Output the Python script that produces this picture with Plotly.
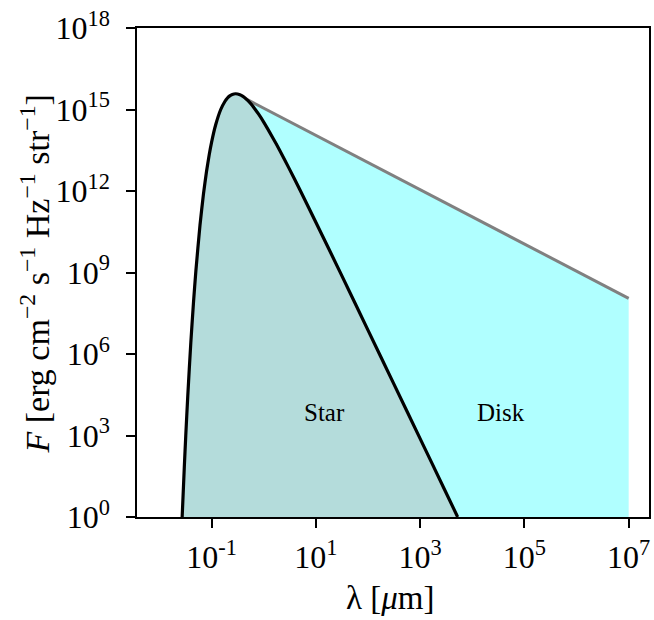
import plotly.graph_objects as go

# Stellar blackbody spectrum (wavelength in micron, flux in erg cm^-2 s^-1 Hz^-1 str^-1)
star_wavelength = [0.0273, 0.03, 0.032, 0.035, 0.04, 0.045, 0.05, 0.06, 0.07, 0.08, 0.09,
                   0.1, 0.12, 0.15, 0.18, 0.2, 0.22, 0.25, 0.29, 0.35, 0.4, 0.45, 0.5,
                   0.6, 0.7, 0.8, 1.0, 1.5, 2.0, 3.0, 5.0, 10.0, 30.0, 100.0, 300.0,
                   1000.0, 3000.0, 5250.0]
star_flux = [1.0, 6.8e1, 9.8e2, 2.95e4, 2.6e6, 7.8e7, 1.12e9, 5.5e10, 7.8e11, 5.2e12, 2.1e13,
             6.2e13, 2.75e14, 1.0e15, 1.97e15, 2.6e15, 3.1e15, 3.6e15, 3.8e15, 3.5e15, 3.04e15,
             2.55e15, 2.11e15, 1.42e15, 9.6e14, 6.7e14, 3.45e14, 9.0e13, 3.3e13, 7.4e12,
             1.06e12, 7.1e10, 9.3e8, 7.6e6, 9.4e4, 7.7e2, 9.5, 1.0]

# Disk excess: power law from the stellar peak out to 10^7 micron
disk_wavelength = [0.466, 1.0e7]
disk_flux = [2.4e15, 1.12e8]

floor_flux = 1.0  # bottom of the flux axis

x_tickvals = [1e-1, 1e1, 1e3, 1e5, 1e7]
x_ticktext = ["10<sup>-1</sup>", "10<sup>1</sup>", "10<sup>3</sup>", "10<sup>5</sup>", "10<sup>7</sup>"]
y_tickvals = [1e0, 1e3, 1e6, 1e9, 1e12, 1e15, 1e18]
y_ticktext = ["10<sup>0</sup>", "10<sup>3</sup>", "10<sup>6</sup>", "10<sup>9</sup>",
              "10<sup>12</sup>", "10<sup>15</sup>", "10<sup>18</sup>"]

SERIF = "Liberation Serif, Times New Roman, serif"

fig = go.Figure()

# Disk region (cyan) under the power law
fig.add_trace(go.Scatter(
    x=disk_wavelength + disk_wavelength[::-1],
    y=disk_flux + [floor_flux, floor_flux],
    fill="toself", fillcolor="#b0ffff", mode="none", hoverinfo="skip"))

# Star region
fig.add_trace(go.Scatter(
    x=star_wavelength, y=star_flux,
    fill="toself", fillcolor="#b4dcdb", mode="none", hoverinfo="skip"))

# Disk power-law line
fig.add_trace(go.Scatter(
    x=disk_wavelength, y=disk_flux, mode="lines",
    line=dict(color="#808080", width=3)))

# Stellar curve
fig.add_trace(go.Scatter(
    x=star_wavelength, y=star_flux, mode="lines",
    line=dict(color="black", width=3.2, shape="spline", smoothing=0.6)))

axis_common = dict(
    type="log", showgrid=False, zeroline=False,
    showline=True, linecolor="black", linewidth=1.5, mirror=True,
    ticks="outside", ticklen=9, tickwidth=1.5, tickcolor="black",
    tickfont=dict(family=SERIF, size=32, color="black"),
)

fig.update_layout(
    width=654, height=620,
    margin=dict(l=137, r=3, t=28, b=103),
    paper_bgcolor="white", plot_bgcolor="white",
    showlegend=False,
    xaxis=dict(axis_common, range=[-2.43, 7.39], ticklabelstandoff=2,
               tickmode="array", tickvals=x_tickvals, ticktext=x_ticktext),
    yaxis=dict(axis_common, range=[0, 18], ticklabelstandoff=10,
               tickmode="array", tickvals=y_tickvals, ticktext=y_ticktext),
    annotations=[
        dict(text="Star", x=1.16, y=3.86, xref="x", yref="y", showarrow=False,
             font=dict(family=SERIF, size=25, color="black")),
        dict(text="Disk", x=4.55, y=3.86, xref="x", yref="y", showarrow=False,
             font=dict(family=SERIF, size=25, color="black")),
        dict(text="λ [<i>μ</i>m]", x=0.496, y=-0.166, xref="paper", yref="paper",
             showarrow=False, xanchor="center", yanchor="middle",
             font=dict(family=SERIF, size=33, color="black")),
        dict(text="<i>F</i> [erg cm<sup>−2</sup> s<sup>−1</sup> Hz<sup>−1</sup> str<sup>−1</sup>]",
             x=-0.2, y=0.497, xref="paper", yref="paper", textangle=-90,
             showarrow=False, xanchor="center", yanchor="middle",
             font=dict(family=SERIF, size=34, color="black")),
    ],
)

fig.write_html("out.html")
